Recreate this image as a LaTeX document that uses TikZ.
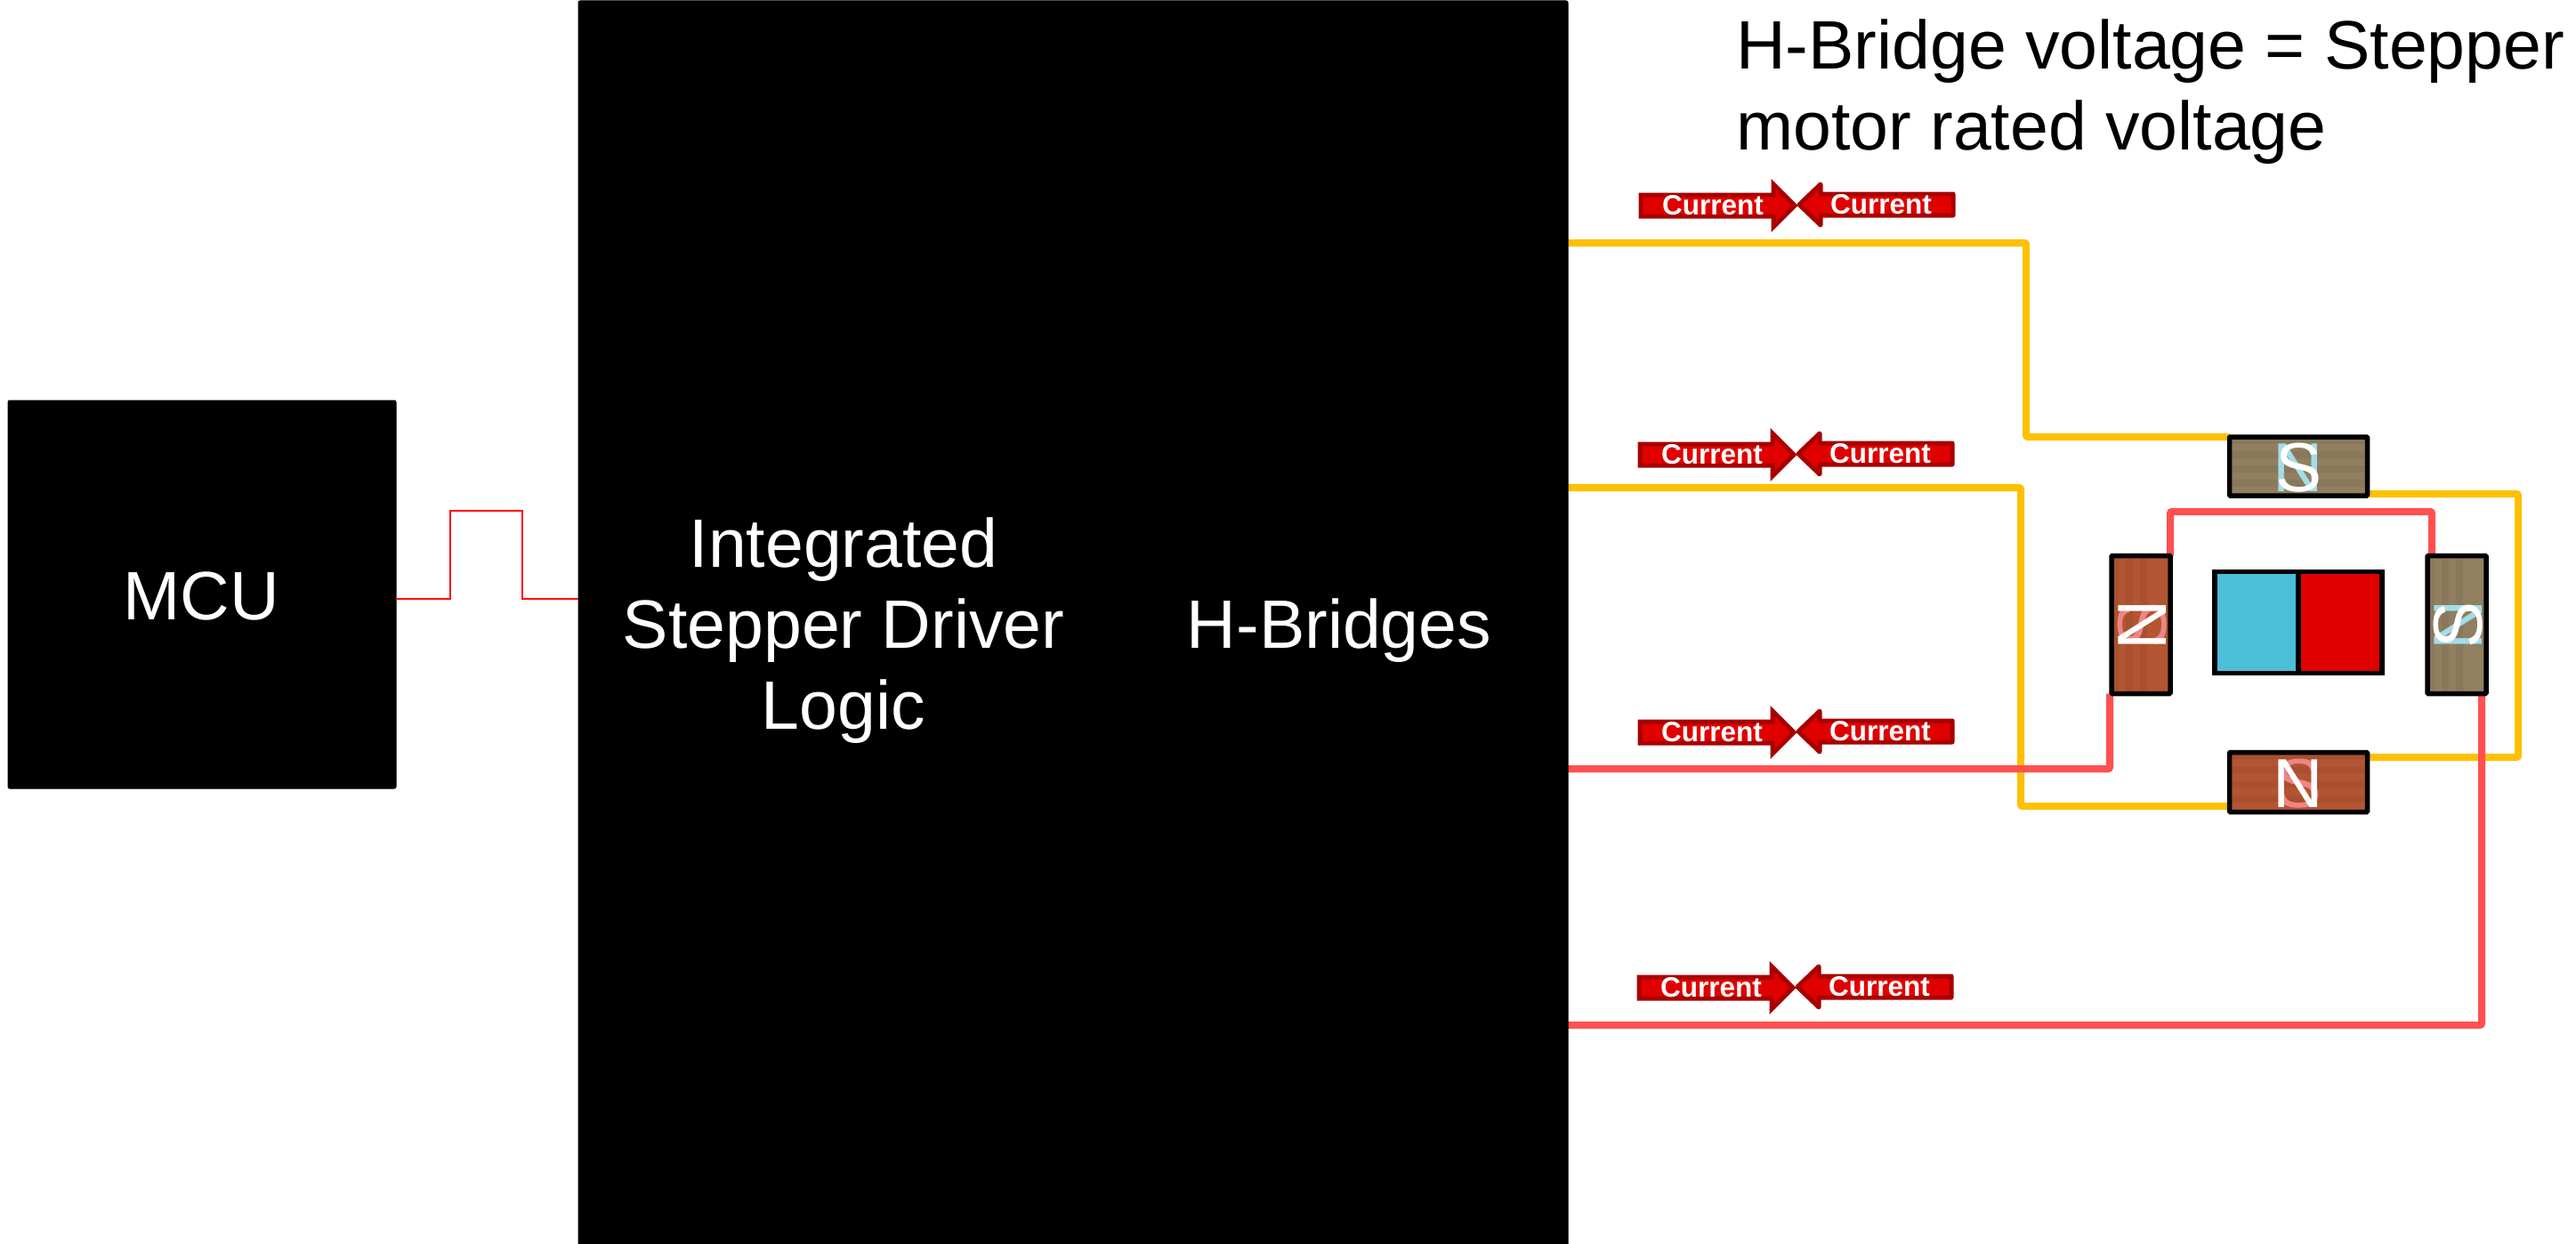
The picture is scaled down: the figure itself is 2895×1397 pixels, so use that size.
\documentclass[tikz,border=0pt]{standalone}
\usepackage{fontspec}
\usetikzlibrary{backgrounds}
\setmainfont{Liberation Sans}
\definecolor{wireY}{HTML}{FFC000}
\definecolor{wireR}{HTML}{FF5050}
\definecolor{coilS}{HTML}{917F60}
\definecolor{coilN}{HTML}{B35533}
\definecolor{ghostB}{HTML}{A3DDEA}
\definecolor{ghostR}{HTML}{EF8585}
\definecolor{arrF}{HTML}{E00000}
\definecolor{arrS}{HTML}{A80000}
\definecolor{rotB}{HTML}{4BBED8}
\tikzset{
  blackbox/.style={rectangle,fill=black,draw=black,rounded corners=2pt,inner sep=0,outer sep=0,line width=1pt},
  biglabel/.style={text=white,align=center,font=\fontsize{77}{91}\selectfont,inner sep=0},
  yw/.style={draw=wireY,line width=8pt,rounded corners=2pt},
  rw/.style={draw=wireR,line width=8pt,rounded corners=2pt},
  sig/.style={draw=red,line width=2pt},
  coil/.style={rectangle,draw=black,line width=5.5pt,rounded corners=1pt,inner sep=0,outer sep=0},
  hstripes/.style={path picture={
    \foreach \i in {0,2,4,6,8}{\fill[black,opacity=.05] ([yshift=-\i*8pt]path picture bounding box.north west) rectangle ([yshift=-\i*8pt-8pt]path picture bounding box.north east);}}},
  vstripes/.style={path picture={
    \foreach \i in {0,2,4}{\fill[black,opacity=.05] ([xshift=\i*8pt]path picture bounding box.north west) rectangle ([xshift=\i*8pt+8pt]path picture bounding box.south west);}}},
  pole/.style={font=\fontsize{78}{78}\selectfont,inner sep=0,text height=56pt,text depth=0pt},
  arrowR/.style={fill=arrF,draw=arrS,line width=5pt,line join=miter},
  arrowL/.style={fill=arrF,draw=arrS,line width=5pt,line join=round},
  curlabel/.style={text=white,font=\fontsize{31.5}{32}\selectfont\bfseries,inner sep=0},
  rotorpart/.style={rectangle,draw=black,line width=5.5pt,inner sep=0,outer sep=0,minimum width=94pt,minimum height=114pt},
}
\newcommand{\currentpair}[3]{%
  \draw[arrowL] (#1+176,#2-13) -- (#1+27,#2-13) -- (#1+27,#2-24) -- (#1+3,#2-1) -- (#1+27,#2+22) -- (#1+27,#2+11) -- (#1+176,#2+11) -- cycle;
  \draw[arrowR] (#1-175,#2-12) -- (#1-26,#2-12) -- (#1-26,#2-24) -- (#1-2,#2) -- (#1-26,#2+24) -- (#1-26,#2+12) -- (#1-175,#2+12) -- cycle;
  \node[curlabel] (cl#3) at (#1-94,#2) {Current};
  \node[curlabel] (cr#3) at (#1+95,#2-1) {Current};
}
\begin{document}
\begin{tikzpicture}[x=1pt,y=-1pt]
\useasboundingbox (0,0) rectangle (2895,1397);
% boxes
\node[blackbox,minimum width=436pt,minimum height=436pt] (mcu) at (227,668) {};
\node[blackbox,minimum width=1112pt,minimum height=1400pt] (drv) at (1206,701) {};
\node[biglabel] (mculabel) at (226,670) {MCU};
\node[biglabel] (logic) at (948,709) {Integrated\\Stepper Driver\\Logic};
\node[biglabel] (hb) at (1505,709) {H-Bridges};
\node[inner sep=0,align=left,anchor=north west,font=\fontsize{77}{91}\selectfont] (title) at (1951,22) {H-Bridge voltage = Stepper\\motor rated voltage};
% signal
\coordinate (s1) at (506,673);
\coordinate (s2) at (506,574);
\coordinate (s3) at (587,574);
\coordinate (s4) at (587,673);
\draw[sig] (mcu.east |- s1) -- (s1) -- (s2) -- (s3) -- (s4) -- (drv.west |- s4);
% coils
\node[coil,fill=coilS,hstripes,minimum width=155pt,minimum height=66pt] (coilT) at (2583,524) {};
\node[coil,fill=coilN,hstripes,minimum width=155pt,minimum height=67pt] (coilB) at (2583,879) {};
\node[coil,fill=coilN,vstripes,minimum width=66pt,minimum height=155pt] (coilL) at (2406,702) {};
\node[coil,fill=coilS,vstripes,minimum width=66pt,minimum height=155pt] (coilR) at (2761,702) {};
% wire bend points
\coordinate (y1a) at (2277,273);
\coordinate (y2a) at (2271,548);
\coordinate (yr) at (2830,555);
\coordinate (r1a) at (2371,864);
\coordinate (r2a) at (2789,1152);
\coordinate (r3a) at (2439,575);
\coordinate (r3b) at (2733,575);
\coordinate (yB) at (2650,851);
\coordinate (yB2) at (2650,906);
% wires, behind the coils
\begin{scope}[on background layer]
\fill[white] (0,0) rectangle (2895,1397);
\draw[yw] (drv.east |- y1a) -- (y1a) -- (y1a |- coilT.north west) -- (coilT.north west);
\draw[yw] (drv.east |- y2a) -- (y2a) -- (y2a |- yB2) -- (coilB.west |- yB2);
\draw[yw] (coilT.east |- yr) -- (yr) -- (yr |- yB) -- (coilB.east |- yB);
\draw[rw] (drv.east |- r1a) -- (r1a) -- (r1a |- coilL.south);
\draw[rw] (r3a |- coilL.north) -- (r3a) -- (r3b) -- (r3b |- coilR.north);
\draw[rw] (drv.east |- r2a) -- (r2a) -- (r2a |- coilR.south);
\end{scope}
% pole letters
\node[pole,text=ghostB] (gT) at (coilT.center) {N};
\node[pole,text=white] (pT) at (coilT.center) {S};
\node[pole,text=ghostR] (gB) at (coilB.center) {S};
\node[pole,text=white] (pB) at (coilB.center) {N};
\node[pole,text=ghostR,rotate=90] (gL) at (coilL.center) {S};
\node[pole,text=white,rotate=90] (pL) at (coilL.center) {N};
\node[pole,text=ghostB,rotate=90] (gR) at (coilR.center) {N};
\node[pole,text=white,rotate=90] (pR) at (coilR.center) {S};
% rotor
\node[rotorpart,fill=rotB] (rotS) at (2536,699.5) {};
\node[rotorpart,fill=arrF] (rotN) at (2630,699.5) {};
% currents
\currentpair{2019}{231}{1}
\currentpair{2018}{511}{2}
\currentpair{2018}{823}{3}
\currentpair{2017}{1110}{4}
\end{tikzpicture}
\end{document}
